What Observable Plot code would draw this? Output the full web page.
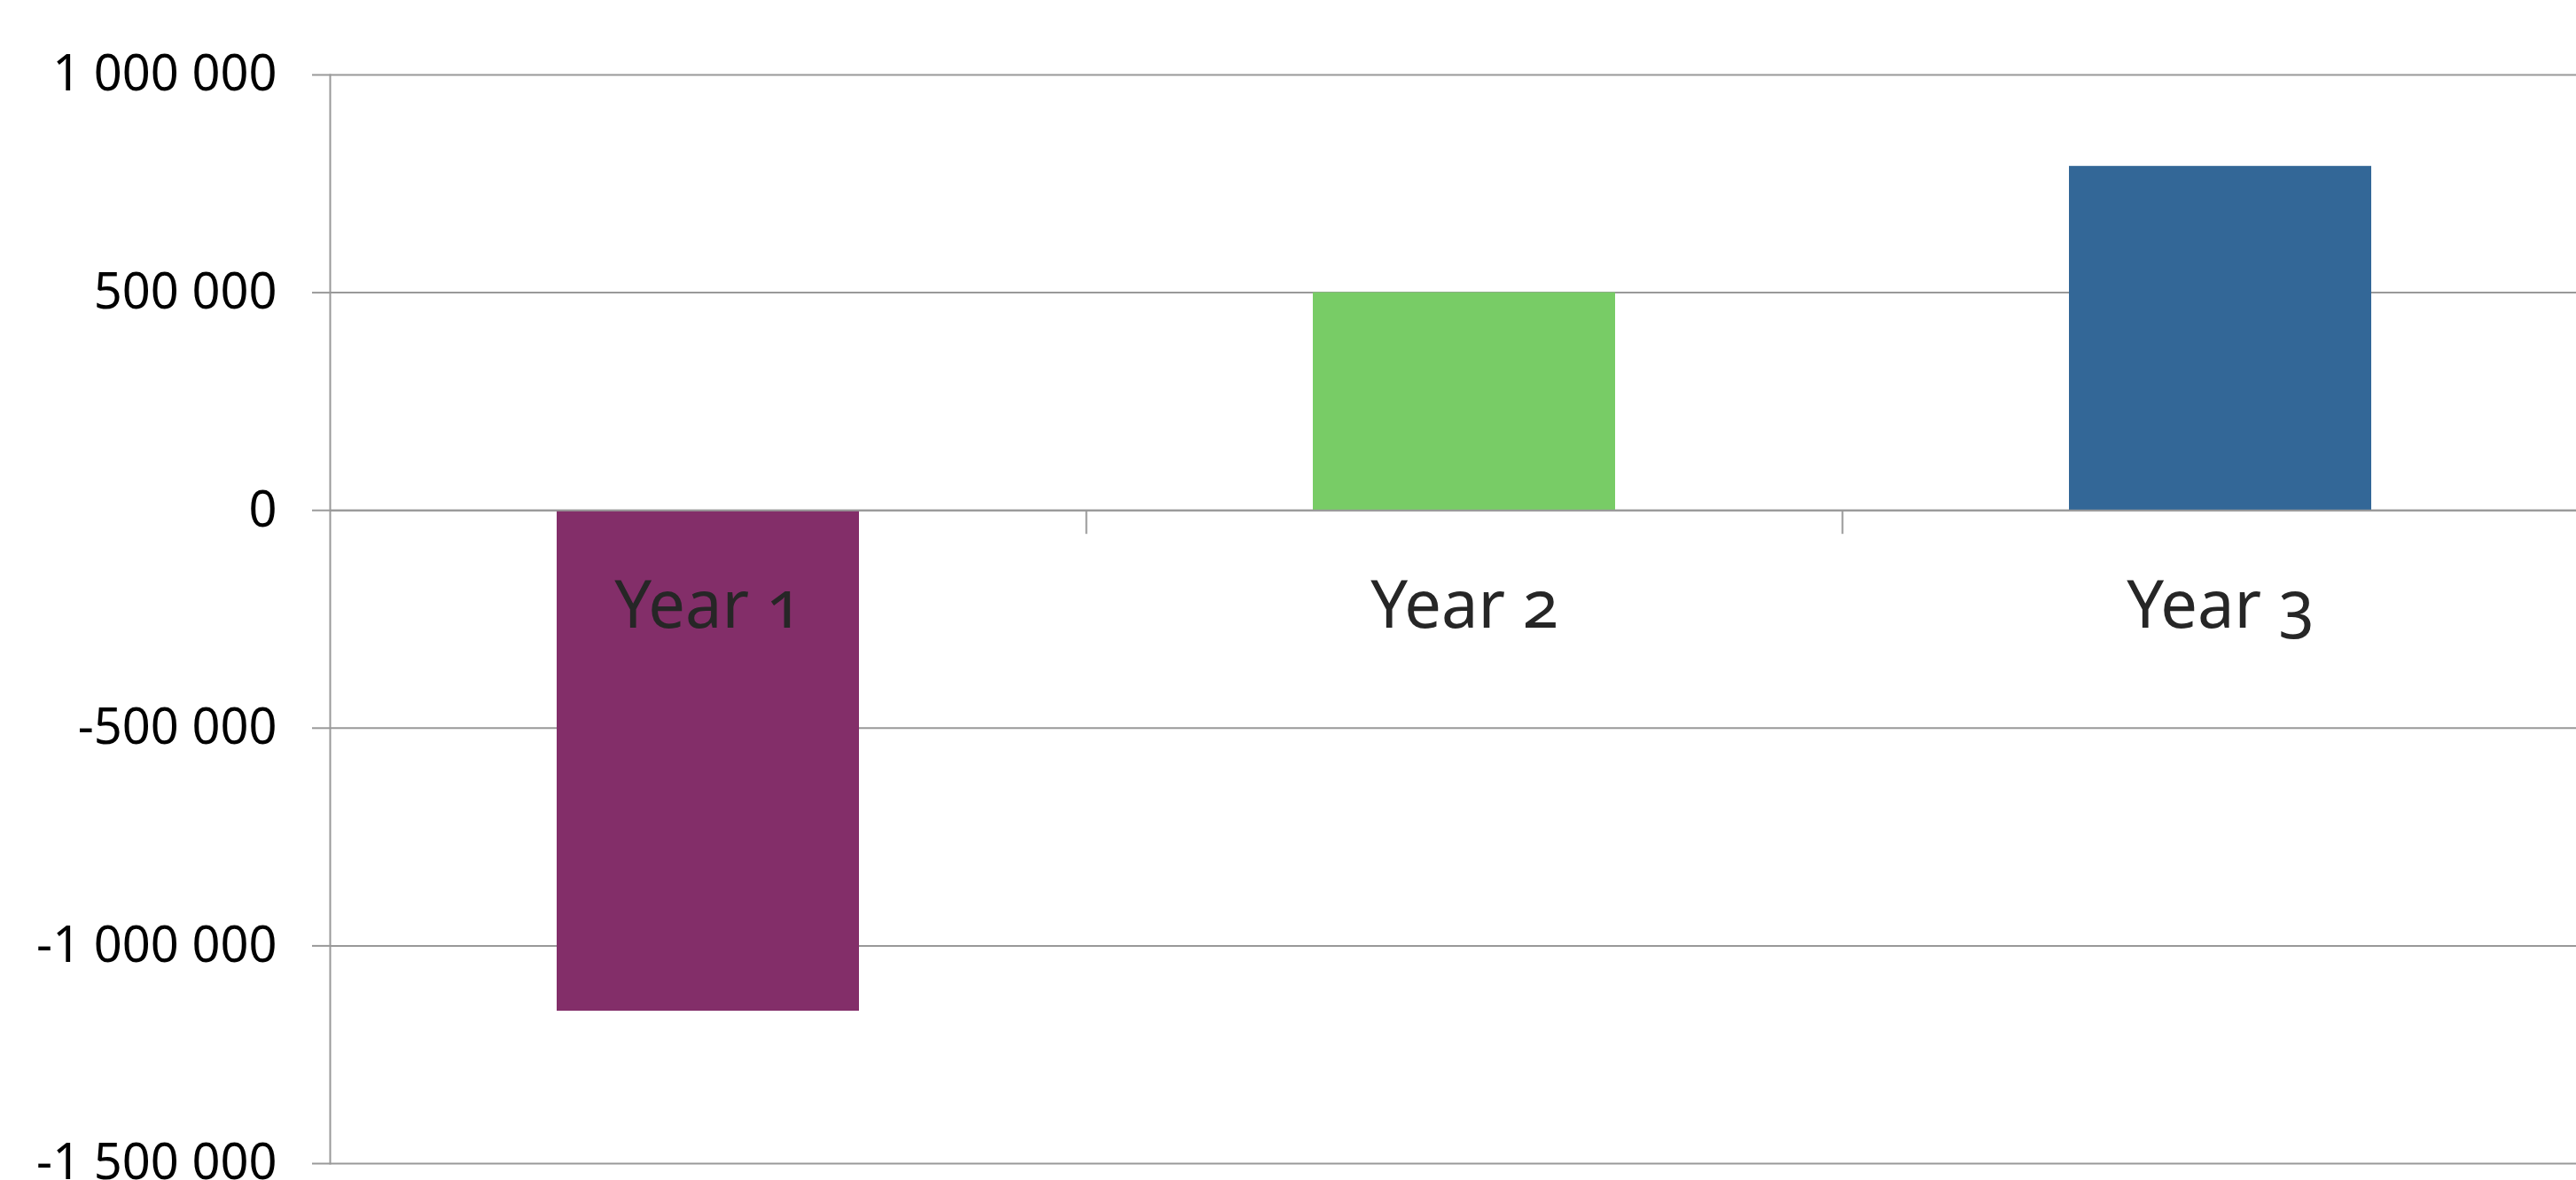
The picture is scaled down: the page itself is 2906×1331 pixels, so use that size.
<!DOCTYPE html>
<html>
<head>
<meta charset="utf-8">
<script src="https://cdn.jsdelivr.net/npm/d3@7"></script>
<script src="https://cdn.jsdelivr.net/npm/@observablehq/plot@0.6"></script>
<style>
  html, body { margin: 0; padding: 0; background: #fff; overflow: hidden; }
  #chart svg { display: block; }
</style>
</head>
<body>
<div id="chart"></div>
<script>
const categories = ["Year 1", "Year 2", "Year 3"];
const values = [-1150000, 500000, 790000];
const colors = ["#832E69", "#78CC66", "#336797"];
const yTicks = [-1500000, -1000000, -500000, 0, 500000, 1000000];

const data = categories.map((c, i) => ({category: c, value: values[i], color: colors[i]}));

const fmt = d3.formatLocale({decimal: ".", thousands: " ", grouping: [3], currency: ["", ""], minus: "-"}).format(",");

const W = 2906, H = 1331;
const gridColor = "#999999";

const chart = Plot.plot({
  width: W,
  height: H,
  marginLeft: 372,
  marginRight: 0,
  marginTop: 84,
  marginBottom: 19,
  style: {fontFamily: "'Noto Sans', sans-serif", background: "#fff"},
  x: {domain: categories, range: [372, 2931], paddingInner: 0.6, paddingOuter: 0.3, axis: null},
  y: {domain: [-1500000, 1000000], axis: null},
  marks: [
    Plot.ruleY(yTicks, {stroke: gridColor, strokeWidth: 2}),
    Plot.frame({anchor: "left", stroke: gridColor, strokeWidth: 2}),
    Plot.axisY(yTicks, {
      tickSize: 20, tickPadding: 40, tickFormat: fmt, stroke: gridColor, strokeWidth: 2,
      fontSize: 56, fill: "#000", label: null
    }),
    Plot.barY(data, {x: "category", y: "value", fill: "color"}),
    Plot.ruleY([0], {stroke: gridColor, strokeWidth: 2}),
    Plot.ruleX(categories, {x: d => d, y1: 0, y2: 0, dx: 426.5, insetBottom: -27, stroke: gridColor, strokeWidth: 2}),
    Plot.text(categories, {
      x: d => d, y: 0, text: d => d, dy: 109, lineAnchor: "middle", textAnchor: "middle",
      fontSize: 74, fill: "#262626",
      fontFamily: "'Noto Sans', sans-serif"
    })
  ]
});
chart.querySelectorAll("text").forEach(t => {});
const st = document.createElement("style");
st.textContent = "#chart svg g[aria-label='text'] text { font-variant-numeric: oldstyle-nums; font-feature-settings: 'onum' 1; }";
document.head.appendChild(st);
document.getElementById("chart").appendChild(chart);
</script>
</body>
</html>
